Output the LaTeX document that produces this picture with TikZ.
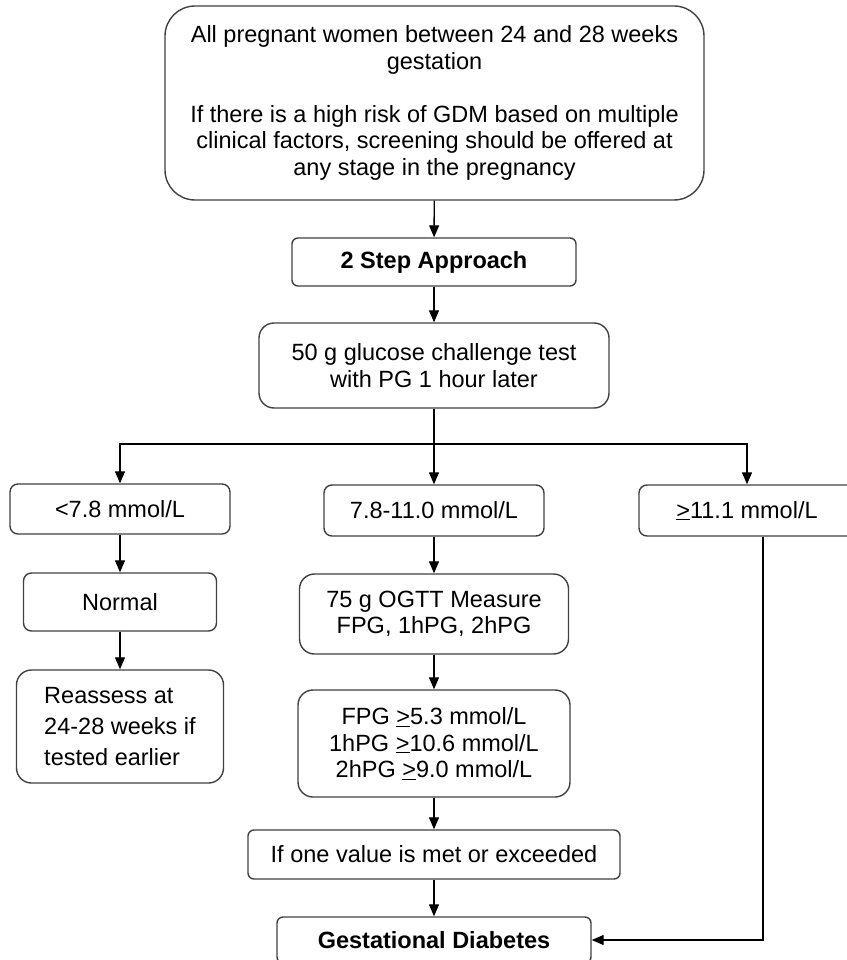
\documentclass[tikz,border=0pt]{standalone}
\usepackage{fontspec}
\setmainfont{Liberation Sans}
\usetikzlibrary{arrows.meta}

\begin{document}
\begin{tikzpicture}[x=1pt,y=-1pt,
  box/.style={draw=black!75,line width=1.4pt,rounded corners=#1,align=center,inner sep=0pt,
    font=\fontsize{23.5}{26.5}\selectfont},
  box/.default=8pt,
  link/.style={line width=1.3pt},
  arr/.style={link,-{Triangle[length=12pt,width=10pt]}}]
\useasboundingbox (0,0) rectangle (846,960);

\node[box=30pt,minimum width=539pt,minimum height=194pt] (all) at (434.5,103)
  {All pregnant women between 24 and 28 weeks\\gestation\\[26.5pt]If there is a high risk of GDM based on multiple\\clinical factors, screening should be offered at\\any stage in the pregnancy};
\node[box=6pt,minimum width=284pt,minimum height=48pt] (step) at (434,262) {\bfseries 2 Step Approach};
\node[box=15pt,minimum width=350pt,minimum height=85pt] (gct) at (434,365.5) {50 g glucose challenge test\\with PG 1 hour later};

\node[box,minimum width=220pt,minimum height=50pt] (low) at (120,509) {<7.8 mmol/L};
\node[box,minimum width=220pt,minimum height=51pt] (mid) at (434,510.5) {7.8-11.0 mmol/L};
\node[box,minimum width=216pt,minimum height=51pt] (high) at (747,510.5) {\underline{>}11.1 mmol/L};

\node[box,minimum width=193pt,minimum height=58pt] (normal) at (120,602) {Normal};
\node[box=15pt,minimum width=207pt,minimum height=113pt,align=left,
  font=\fontsize{23.5}{31}\selectfont] (reassess) at (120,726.5) {Reassess at\\24-28 weeks if\\tested earlier};

\node[box=15pt,minimum width=269pt,minimum height=80pt] (ogtt) at (434,614) {75 g OGTT Measure\\FPG, 1hPG, 2hPG};
\node[box=15pt,minimum width=272pt,minimum height=107pt] (fpg) at (434,743.5)
  {FPG \underline{>}5.3 mmol/L\\1hPG \underline{>}10.6 mmol/L\\2hPG \underline{>}9.0 mmol/L};
\node[box=6pt,minimum width=372pt,minimum height=49pt] (ifone) at (434,854.5) {If one value is met or exceeded};
\node[box=6pt,minimum width=314pt,minimum height=46pt] (gdm) at (434,940) {\bfseries Gestational Diabetes};

% connectors
\coordinate (split) at (434,444);
\draw[arr] (all) -- (step);
\draw[arr] (step) -- (gct);
\draw[link] (gct) -- (split);
\draw[arr] (split) -| (low);
\draw[arr] (split) -- (mid);
\draw[arr] (split) -| (high);
\draw[arr] (low) -- (normal);
\draw[arr] (normal) -- (reassess);
\draw[arr] (mid) -- (ogtt);
\draw[arr] (ogtt) -- (fpg);
\draw[arr] (fpg) -- (ifone);
\draw[arr] (ifone) -- (gdm);
\draw[arr] ([xshift=16pt]high.south) |- (gdm);
\end{tikzpicture}
\end{document}
